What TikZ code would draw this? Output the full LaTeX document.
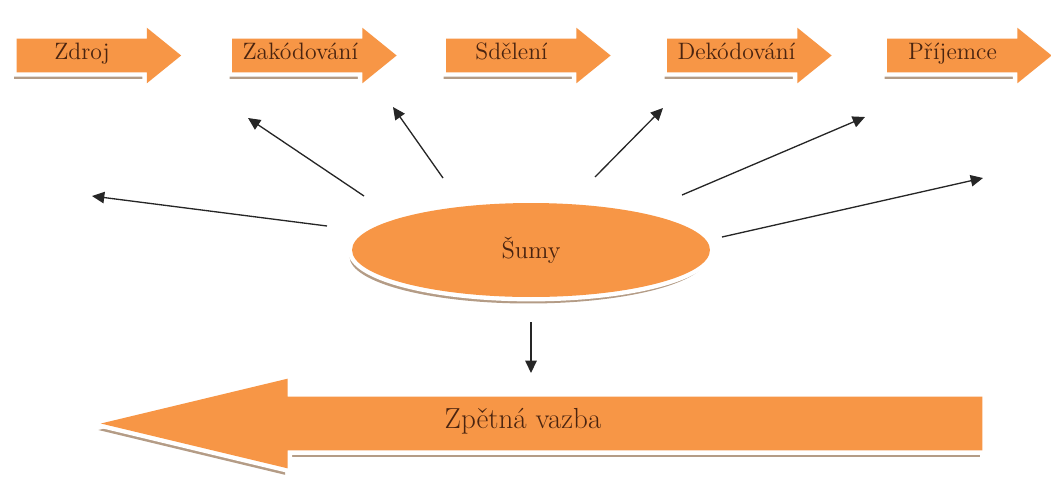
\documentclass[tikz,border=0pt]{standalone}
\usepackage{fontspec}
\usetikzlibrary{shapes.arrows,shapes.geometric,shadows,arrows.meta}

\begin{document}
\begin{tikzpicture}[x=0.02cm, y=-0.02cm,
    boxShadow/.style={drop shadow={shadow xshift=-0.05cm, shadow yshift=-0.13cm, fill=shadowBrown, opacity=1},
        preaction={draw=white, line width=5pt}, fill=fillOrange, draw=none, text=textBrown},
    stepArrow/.style={boxShadow, single arrow, single arrow head extend=0.22cm, single arrow tip angle=78,
        text width=2.46cm, align=center, inner xsep=0.2cm, inner ysep=0.165cm,
        text height=0.25cm, text depth=0.08cm, font=\fontsize{13.5}{13.5}\selectfont,
        execute at end node={\hspace*{0.26cm}}},
    noiseEllipse/.style={boxShadow, ellipse, minimum width=7.16cm, minimum height=1.88cm, inner sep=0pt,
        font=\fontsize{14}{14}\selectfont},
    feedbackArrow/.style={boxShadow, single arrow, shape border rotate=180,
        single arrow head extend=0.36cm, single arrow tip angle=27,
        text width=14.98cm, inner xsep=0.2cm, inner ysep=0.33cm, text height=0.3cm, text depth=0.1cm},
    feedbackText/.style={text=textBrown, font=\fontsize{16.5}{16.5}\selectfont},
    noiseArrow/.style={-{Triangle[length=7pt,width=6.5pt]}, line width=0.75pt, black!85}]
    \definecolor{fillOrange}{HTML}{F79646}
    \definecolor{shadowBrown}{HTML}{B49C86}
    \definecolor{textBrown}{HTML}{4A2410}

    \useasboundingbox (0,0) rectangle (1051,481);

    % Communication chain
    \node[stepArrow] (zdroj) at (88.5,55.5) {Zdroj};
    \node[stepArrow] (zakod) at (304,55.5) {Zakódování};
    \node[stepArrow] (sdeleni) at (518,55.5) {Sdělení};
    \node[stepArrow] (dekod) at (739,55.5) {Dekódování};
    \node[stepArrow] (prijemce) at (959,55.5) {Příjemce};

    % Noise
    \node[noiseEllipse] (sumy) at (531,250) {Šumy};

    % Feedback
    \node[feedbackArrow] (vazba) at (597.5,423.5) {};
    \node[feedbackText] (vazbaText) at (523,421) {Zpětná vazba};

    % Noise rays
    \coordinate (s1) at (327,226); \coordinate (e1) at (92,196);
    \coordinate (s2) at (364,196); \coordinate (e2) at (248,118);
    \coordinate (s3) at (443,178); \coordinate (e3) at (393,107);
    \coordinate (s4) at (595,177); \coordinate (e4) at (663,108);
    \coordinate (s5) at (682,195); \coordinate (e5) at (865,117);
    \coordinate (s6) at (722,237); \coordinate (e6) at (983,178);
    \coordinate (e7) at (531,373);
    \foreach \i in {1,...,6}
        \draw[noiseArrow] (s\i) -- (e\i);
    \draw[noiseArrow, shorten <=0.5cm] (sumy.south) -- (e7);

\end{tikzpicture}
\end{document}
